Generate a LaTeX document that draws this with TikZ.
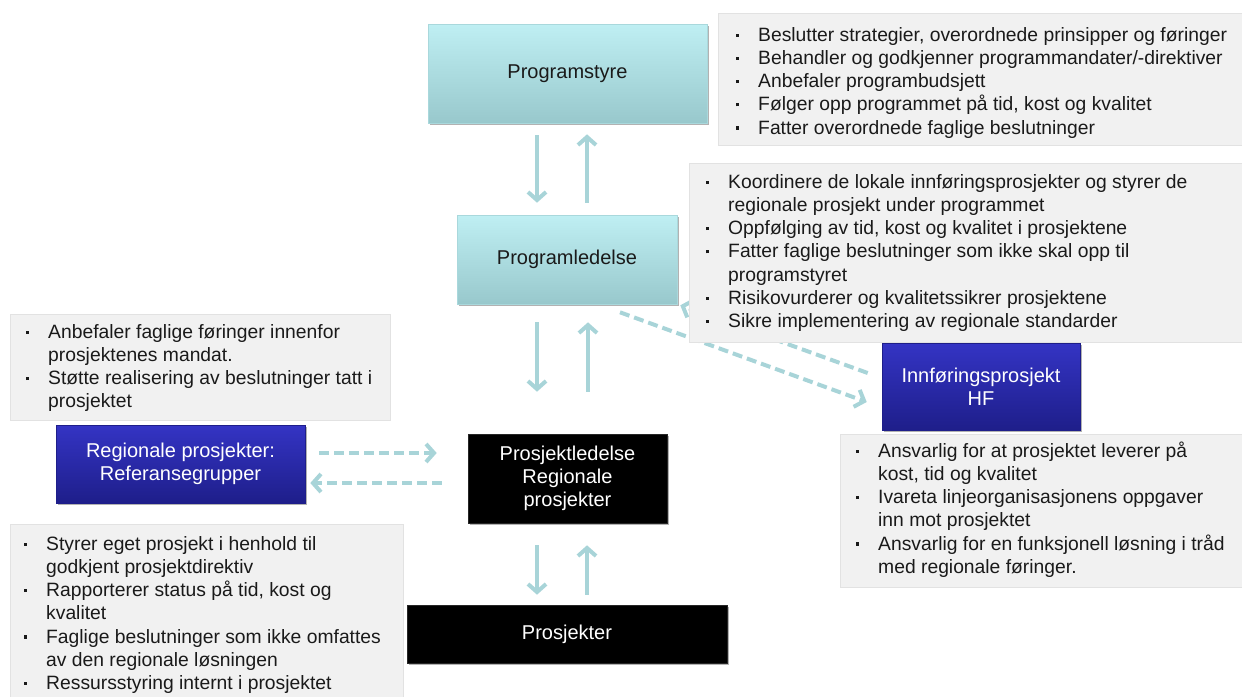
\documentclass[tikz,border=0pt]{standalone}
\usepackage{fontspec}
\setmainfont{Liberation Sans}
\usetikzlibrary{arrows.meta,calc,shadows}
\definecolor{arrc}{HTML}{A8D4D8}
\definecolor{gfill}{HTML}{F1F1F1}
\definecolor{gline}{HTML}{E2E2E2}
\definecolor{cyantop}{HTML}{BFEFF3}
\definecolor{cyanbot}{HTML}{98C8CC}
\definecolor{cyanline}{HTML}{A9D8DC}
\definecolor{bluetop}{HTML}{3434C4}
\definecolor{bluebot}{HTML}{1E1E8A}
\definecolor{txt}{HTML}{1A1A1A}
\newcommand{\bu}{\makebox[22pt][l]{\rule[4.5pt]{3.2pt}{3.2pt}}}
\newcommand{\ind}{\hspace*{22pt}}
\newcommand{\fst}{\rule{0pt}{18pt}}
\tikzset{
  shad/.style={drop shadow={shadow xshift=1.5pt,shadow yshift=-2pt,opacity=0.3,fill=black}},
  cbox/.style={shad,rectangle,top color=cyantop,bottom color=cyanbot,draw=cyanline,line width=0.6pt,
    font=\fontsize{20}{23}\selectfont,text=txt,align=center,inner sep=0pt},
  bbox/.style={shad,rectangle,top color=bluetop,bottom color=bluebot,draw=bluebot,line width=0.6pt,
    font=\fontsize{20}{23}\selectfont,text=white,align=center,inner sep=0pt},
  kbox/.style={shad,rectangle,fill=black,draw=black!85,line width=0.6pt,
    font=\fontsize{20}{23}\selectfont,text=white,align=center,inner sep=0pt},
  gbox/.style={rectangle,fill=gfill,draw=gline,line width=0.8pt,anchor=north west,inner sep=0pt},
  gtext/.style={anchor=north west,inner sep=0pt,align=left,text=txt,font=\fontsize{19.3}{23.2}\selectfont},
  arr/.style={draw=arrc,line width=4pt,-{Straight Barb[length=8pt,width=18pt]}},
  darr/.style={arr,dash pattern=on 10pt off 5pt}
}
\begin{document}
\begin{tikzpicture}[x=1pt,y=-1pt]
\useasboundingbox (0,0) rectangle (1242,696);

% main boxes
\node[cbox,minimum width=279pt,minimum height=99pt] (ps) at (567.5,73.5) {Programstyre};
\node[cbox,minimum width=220pt,minimum height=89pt] (pl) at (567,259.5) {Programledelse};
\node[bbox,minimum width=198pt,minimum height=87pt] (ip) at (981,386.5) {Innføringsprosjekt\\HF};
\node[bbox,minimum width=249pt,minimum height=78pt] (rp) at (180.5,464) {Regionale prosjekter:\\Referansegrupper};
\node[kbox,minimum width=199pt,minimum height=89pt] (pr) at (567.5,478.5) {Prosjektledelse\\Regionale\\prosjekter};
\node[kbox,minimum width=320pt,minimum height=58pt] (pj) at (567,634) {Prosjekter};

% diagonal dashed connectors (behind the grey boxes)
\draw[darr] ($(pl.south)+(53,8)$) -- ($(ip.west)+(-15,15.5)$);
\draw[darr] ($(ip.west)+(-14,-13.5)$) -- ($(pl.south east)+(3,1)$);

% grey text boxes
\node[gbox,minimum width=524pt,minimum height=132pt] (g1) at (718,13) {};
\node[gbox,minimum width=553pt,minimum height=179pt] (g2) at (689,163) {};
\node[gbox,minimum width=380pt,minimum height=106pt] (g3) at (10,314) {};
\node[gbox,minimum width=393pt,minimum height=175pt] (g4) at (10,524) {};
\node[gbox,minimum width=402pt,minimum height=153pt] (g5) at (840,434) {};

\node[gtext] (g1t) at (736,23) {\fst\bu Beslutter strategier, overordnede prinsipper og føringer\\
\bu Behandler og godkjenner programmandater/-direktiver\\
\bu Anbefaler programbudsjett\\
\bu Følger opp programmet på tid, kost og kvalitet\\
\bu Fatter overordnede faglige beslutninger};

\node[gtext] (g2t) at (706,170) {\fst\bu Koordinere de lokale innføringsprosjekter og styrer de\\
\ind regionale prosjekt under programmet\\
\bu Oppfølging av tid, kost og kvalitet i prosjektene\\
\bu Fatter faglige beslutninger som ikke skal opp til\\
\ind programstyret\\
\bu Risikovurderer og kvalitetssikrer prosjektene\\
\bu Sikre implementering av regionale standarder};

\node[gtext] (g3t) at (26,320) {\fst\bu Anbefaler faglige føringer innenfor\\
\ind prosjektenes mandat.\\
\bu Støtte realisering av beslutninger tatt i\\
\ind prosjektet};

\node[gtext] (g4t) at (24,532) {\fst\bu Styrer eget prosjekt i henhold til\\
\ind godkjent prosjektdirektiv\\
\bu Rapporterer status på tid, kost og\\
\ind kvalitet\\
\bu Faglige beslutninger som ikke omfattes\\
\ind av den regionale løsningen\\
\bu Ressursstyring internt i prosjektet};

\node[gtext] (g5t) at (856,439) {\fst\bu Ansvarlig for at prosjektet leverer på\\
\ind kost, tid og kvalitet\\
\bu Ivareta linjeorganisasjonens oppgaver\\
\ind inn mot prosjektet\\
\bu Ansvarlig for en funksjonell løsning i tråd\\
\ind med regionale føringer.};

% vertical connectors
\draw[arr] ($(ps.south)+(-30.5,12)$) -- ($(pl.north)+(-30,-12)$);
\draw[arr] ($(pl.north)+(20,-12)$) -- ($(ps.south)+(19.5,11)$);
\draw[arr] ($(pl.south)+(-30,18)$) -- ($(pr.north)+(-30.5,-42)$);
\draw[arr] ($(pr.north)+(20.5,-42)$) -- ($(pl.south)+(21,18)$);
\draw[arr] ($(pr.south)+(-30.5,22)$) -- ($(pj.north)+(-30,-10)$);
\draw[arr] ($(pj.north)+(20,-10)$) -- ($(pr.south)+(19.5,22)$);

% horizontal dashed connectors
\draw[darr] ($(rp.east)+(14,-11)$) -- ($(pr.west)+(-31,-25.5)$);
\draw[darr] ($(pr.west)+(-26,4.5)$) -- ($(rp.east)+(5,19)$);
\end{tikzpicture}
\end{document}
